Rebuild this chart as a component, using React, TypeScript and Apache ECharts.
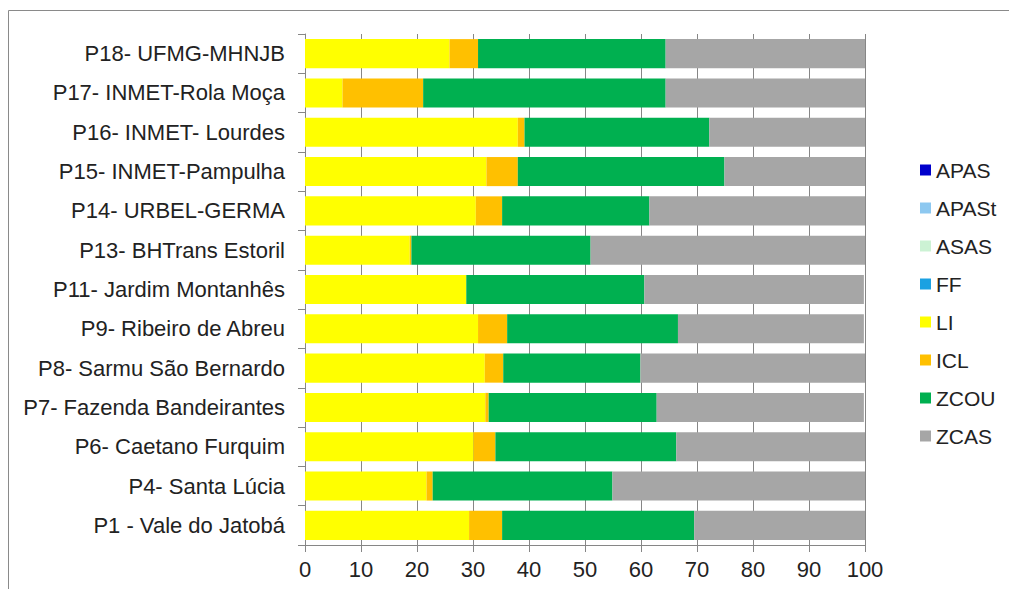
import React, { useEffect, useRef } from "react";
import * as echarts from "echarts";

// Monitoring points, bottom to top
const categories = [
  "P1 - Vale do Jatobá",
  "P4- Santa Lúcia",
  "P6- Caetano Furquim",
  "P7- Fazenda Bandeirantes",
  "P8- Sarmu São Bernardo",
  "P9- Ribeiro de Abreu",
  "P11- Jardim Montanhês",
  "P13- BHTrans Estoril",
  "P14- URBEL-GERMA",
  "P15- INMET-Pampulha",
  "P16- INMET- Lourdes",
  "P17- INMET-Rola Moça",
  "P18- UFMG-MHNJB",
];

// Share (%) of each class per point
const APAS = [0, 0, 0, 0, 0, 0, 0, 0, 0, 0, 0, 0, 0];
const APASt = [0, 0, 0, 0, 0, 0, 0, 0, 0, 0, 0, 0, 0];
const ASAS = [0, 0, 0, 0, 0, 0, 0, 0, 0, 0, 0, 0, 0];
const FF = [0, 0, 0, 0, 0, 0, 0, 0, 0, 0, 0, 0, 0];
const LI = [29.3, 21.7, 30.1, 32.2, 32.1, 30.9, 28.8, 18.7, 30.5, 32.4, 38.0, 6.7, 25.8];
const ICL = [5.9, 1.1, 3.9, 0.6, 3.3, 5.2, 0, 0.3, 4.7, 5.6, 1.2, 14.4, 5.1];
const ZCOU = [34.3, 32.1, 32.3, 30.0, 24.5, 30.5, 31.8, 32.0, 26.3, 36.9, 33.0, 43.3, 33.5];
const ZCAS = [30.5, 45.1, 33.7, 37.0, 40.1, 33.2, 39.2, 49.0, 38.5, 25.1, 27.8, 35.6, 35.6];

// value axis: min, max, step
const xTicks = [0, 100, 10];

const seriesDefs: [string, number[], string][] = [
  ["APAS", APAS, "#0000CC"],
  ["APASt", APASt, "#8DC8F0"],
  ["ASAS", ASAS, "#CCF2D4"],
  ["FF", FF, "#1BA1E2"],
  ["LI", LI, "#FFFF00"],
  ["ICL", ICL, "#FFC000"],
  ["ZCOU", ZCOU, "#00B050"],
  ["ZCAS", ZCAS, "#A6A6A6"],
];

const FONT = "'Liberation Sans', Arial, sans-serif";
const AXIS_GREY = "#868686";
const TEXT = "#222";

export default function App() {
  const ref = useRef<HTMLDivElement>(null);

  useEffect(() => {
    if (!ref.current) return;
    const chart = echarts.init(ref.current, null, { renderer: "svg" });
    chart.setOption({
      animation: false,
      backgroundColor: "#ffffff",
      graphic: [
        {
          type: "rect",
          shape: { x: 8.5, y: 10.5, width: 1100, height: 700 },
          style: { fill: "none", stroke: "#8a8a8a", lineWidth: 1 },
          silent: true,
          z: 100,
        },
      ],
      grid: { left: 305, right: 144, top: 34, bottom: 44, containLabel: false },
      legend: {
        orient: "vertical",
        left: 920,
        top: 159,
        padding: 0,
        itemWidth: 11,
        itemHeight: 11,
        itemGap: 16,
        icon: "rect",
        selectedMode: false,
        textStyle: {
          fontFamily: FONT,
          fontSize: 21,
          color: TEXT,
          lineHeight: 22,
        },
        data: seriesDefs.map((s) => s[0]),
      },
      xAxis: {
        type: "value",
        min: xTicks[0],
        max: xTicks[1],
        interval: xTicks[2],
        axisLine: { show: true, lineStyle: { color: AXIS_GREY, width: 1 } },
        axisTick: { show: true, length: 7, lineStyle: { color: AXIS_GREY } },
        axisLabel: { fontFamily: FONT, fontSize: 22, color: TEXT, margin: 13 },
        splitLine: { show: true, lineStyle: { color: AXIS_GREY, width: 1 } },
      },
      yAxis: {
        type: "category",
        data: categories,
        axisLine: { show: true, lineStyle: { color: AXIS_GREY, width: 1 } },
        axisTick: { show: true, length: 7, lineStyle: { color: AXIS_GREY } },
        axisLabel: { fontFamily: FONT, fontSize: 22, color: TEXT, margin: 20 },
      },
      series: seriesDefs.map(([name, data, color]) => ({
        name,
        type: "bar",
        stack: "total",
        data,
        barCategoryGap: "26%",
        itemStyle: { color },
        emphasis: { disabled: true },
      })),
    });
    return () => chart.dispose();
  }, []);

  return (
    <div
      ref={ref}
      style={{ position: "fixed", left: 0, top: 0, width: 1009, height: 589 }}
    />
  );
}
